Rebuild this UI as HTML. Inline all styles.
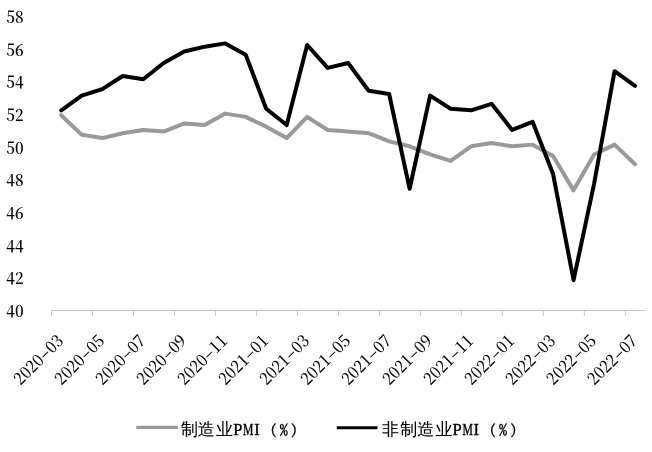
<!DOCTYPE html>
<html><head><meta charset="utf-8"><style>
html,body{margin:0;padding:0;background:#fff;}
body{width:652px;height:452px;overflow:hidden;}
svg{display:block;filter:grayscale(1);}
.yl{font-family:"Noto Serif CJK SC",serif;font-size:17px;text-anchor:end;dominant-baseline:alphabetic;font-weight:600;fill:#000;}
.xl{font-family:"Noto Serif CJK SC",serif;font-size:17px;text-anchor:end;dominant-baseline:alphabetic;font-weight:500;fill:#000;}
.lg{fill:#000;}
.c{font-family:"WenQuanYi Zen Hei",sans-serif;font-size:17px;stroke:#000;stroke-width:0.1px;}
.l{font-family:"Liberation Serif",serif;font-size:16.5px;stroke:#000;stroke-width:0.4px;}
.p{font-family:"IPAGothic",sans-serif;font-size:15px;stroke:#000;stroke-width:0.3px;}
.q{font-family:"IPAGothic",sans-serif;font-size:14px;stroke:#000;stroke-width:0.15px;}
</style></head><body>
<svg width="652" height="452" viewBox="0 0 652 452">
<text class="yl" transform="translate(23.6,310.80) scale(0.89,1)" y="6.2">40</text>
<text class="yl" transform="translate(23.6,278.14) scale(0.89,1)" y="6.2">42</text>
<text class="yl" transform="translate(23.6,245.48) scale(0.89,1)" y="6.2">44</text>
<text class="yl" transform="translate(23.6,212.82) scale(0.89,1)" y="6.2">46</text>
<text class="yl" transform="translate(23.6,180.16) scale(0.89,1)" y="6.2">48</text>
<text class="yl" transform="translate(23.6,147.50) scale(0.89,1)" y="6.2">50</text>
<text class="yl" transform="translate(23.6,114.84) scale(0.89,1)" y="6.2">52</text>
<text class="yl" transform="translate(23.6,82.18) scale(0.89,1)" y="6.2">54</text>
<text class="yl" transform="translate(23.6,49.52) scale(0.89,1)" y="6.2">56</text>
<text class="yl" transform="translate(23.6,16.86) scale(0.89,1)" y="6.2">58</text>
<line x1="51.0" y1="310.5" x2="645.8" y2="310.5" stroke="#c6c6c6" stroke-width="1"/>
<line x1="51.50" y1="310.5" x2="51.50" y2="316.0" stroke="#c6c6c6" stroke-width="1"/>
<line x1="92.49" y1="310.5" x2="92.49" y2="316.0" stroke="#c6c6c6" stroke-width="1"/>
<line x1="133.47" y1="310.5" x2="133.47" y2="316.0" stroke="#c6c6c6" stroke-width="1"/>
<line x1="174.46" y1="310.5" x2="174.46" y2="316.0" stroke="#c6c6c6" stroke-width="1"/>
<line x1="215.44" y1="310.5" x2="215.44" y2="316.0" stroke="#c6c6c6" stroke-width="1"/>
<line x1="256.43" y1="310.5" x2="256.43" y2="316.0" stroke="#c6c6c6" stroke-width="1"/>
<line x1="297.42" y1="310.5" x2="297.42" y2="316.0" stroke="#c6c6c6" stroke-width="1"/>
<line x1="338.40" y1="310.5" x2="338.40" y2="316.0" stroke="#c6c6c6" stroke-width="1"/>
<line x1="379.39" y1="310.5" x2="379.39" y2="316.0" stroke="#c6c6c6" stroke-width="1"/>
<line x1="420.38" y1="310.5" x2="420.38" y2="316.0" stroke="#c6c6c6" stroke-width="1"/>
<line x1="461.36" y1="310.5" x2="461.36" y2="316.0" stroke="#c6c6c6" stroke-width="1"/>
<line x1="502.35" y1="310.5" x2="502.35" y2="316.0" stroke="#c6c6c6" stroke-width="1"/>
<line x1="543.33" y1="310.5" x2="543.33" y2="316.0" stroke="#c6c6c6" stroke-width="1"/>
<line x1="584.32" y1="310.5" x2="584.32" y2="316.0" stroke="#c6c6c6" stroke-width="1"/>
<line x1="625.31" y1="310.5" x2="625.31" y2="316.0" stroke="#c6c6c6" stroke-width="1"/>
<text class="xl" transform="translate(60.05,337.5) rotate(-45) scale(0.91,1)" y="6.2">2020<tspan textLength="11" lengthAdjust="spacingAndGlyphs">-</tspan>03</text>
<text class="xl" transform="translate(101.03,337.5) rotate(-45) scale(0.91,1)" y="6.2">2020<tspan textLength="11" lengthAdjust="spacingAndGlyphs">-</tspan>05</text>
<text class="xl" transform="translate(142.02,337.5) rotate(-45) scale(0.91,1)" y="6.2">2020<tspan textLength="11" lengthAdjust="spacingAndGlyphs">-</tspan>07</text>
<text class="xl" transform="translate(183.01,337.5) rotate(-45) scale(0.91,1)" y="6.2">2020<tspan textLength="11" lengthAdjust="spacingAndGlyphs">-</tspan>09</text>
<text class="xl" transform="translate(223.99,337.5) rotate(-45) scale(0.91,1)" y="6.2">2020<tspan textLength="11" lengthAdjust="spacingAndGlyphs">-</tspan>11</text>
<text class="xl" transform="translate(264.98,337.5) rotate(-45) scale(0.91,1)" y="6.2">2021<tspan textLength="11" lengthAdjust="spacingAndGlyphs">-</tspan>01</text>
<text class="xl" transform="translate(305.96,337.5) rotate(-45) scale(0.91,1)" y="6.2">2021<tspan textLength="11" lengthAdjust="spacingAndGlyphs">-</tspan>03</text>
<text class="xl" transform="translate(346.95,337.5) rotate(-45) scale(0.91,1)" y="6.2">2021<tspan textLength="11" lengthAdjust="spacingAndGlyphs">-</tspan>05</text>
<text class="xl" transform="translate(387.94,337.5) rotate(-45) scale(0.91,1)" y="6.2">2021<tspan textLength="11" lengthAdjust="spacingAndGlyphs">-</tspan>07</text>
<text class="xl" transform="translate(428.92,337.5) rotate(-45) scale(0.91,1)" y="6.2">2021<tspan textLength="11" lengthAdjust="spacingAndGlyphs">-</tspan>09</text>
<text class="xl" transform="translate(469.91,337.5) rotate(-45) scale(0.91,1)" y="6.2">2021<tspan textLength="11" lengthAdjust="spacingAndGlyphs">-</tspan>11</text>
<text class="xl" transform="translate(510.89,337.5) rotate(-45) scale(0.91,1)" y="6.2">2022<tspan textLength="11" lengthAdjust="spacingAndGlyphs">-</tspan>01</text>
<text class="xl" transform="translate(551.88,337.5) rotate(-45) scale(0.91,1)" y="6.2">2022<tspan textLength="11" lengthAdjust="spacingAndGlyphs">-</tspan>03</text>
<text class="xl" transform="translate(592.87,337.5) rotate(-45) scale(0.91,1)" y="6.2">2022<tspan textLength="11" lengthAdjust="spacingAndGlyphs">-</tspan>05</text>
<text class="xl" transform="translate(633.85,337.5) rotate(-45) scale(0.91,1)" y="6.2">2022<tspan textLength="11" lengthAdjust="spacingAndGlyphs">-</tspan>07</text>
<polyline points="61.25,115.24 81.74,134.84 102.23,138.10 122.73,133.20 143.22,129.94 163.71,131.57 184.21,123.41 204.70,125.04 225.19,113.61 245.68,116.87 266.18,126.67 286.67,138.10 307.16,116.87 327.66,129.94 348.15,131.57 368.64,133.20 389.14,141.37 409.63,146.27 430.12,154.43 450.62,160.96 471.11,146.27 491.60,143.00 512.09,146.27 532.59,144.63 553.08,156.06 573.57,190.36 594.07,154.43 614.56,144.63 635.05,164.23" fill="none" stroke="#999999" stroke-width="4.0" stroke-linejoin="round" stroke-linecap="round"/>
<polyline points="61.25,110.34 81.74,95.64 102.23,89.11 122.73,76.05 143.22,79.31 163.71,62.98 184.21,51.55 204.70,46.65 225.19,43.39 245.68,54.82 266.18,108.71 286.67,125.04 307.16,45.02 327.66,67.88 348.15,62.98 368.64,90.75 389.14,94.01 409.63,188.72 430.12,95.64 450.62,108.71 471.11,110.34 491.60,103.81 512.09,129.94 532.59,121.77 553.08,174.03 573.57,280.17 594.07,183.83 614.56,71.15 635.05,85.85" fill="none" stroke="#000" stroke-width="4.0" stroke-linejoin="round" stroke-linecap="round"/>
<line x1="136.3" y1="427.4" x2="177.8" y2="427.4" stroke="#999999" stroke-width="3.1"/>
<text class="lg"><tspan class="c" x="180.90" y="435.3">制</tspan><tspan class="c" x="197.80" y="435.3">造</tspan><tspan class="c" x="216.00" y="435.3">业</tspan><tspan class="l" x="233.20" y="435.3">P</tspan><tspan class="l" x="243.00" y="435.3" textLength="10.4" lengthAdjust="spacingAndGlyphs">M</tspan><tspan class="l" x="254.20" y="435.3">I</tspan><tspan class="p" x="261.90" y="436.0">（</tspan><tspan class="q" x="279.40" y="434.8" textLength="8.6" lengthAdjust="spacingAndGlyphs">%</tspan><tspan class="p" x="290.60" y="436.0">）</tspan></text>
<line x1="336.8" y1="427.8" x2="377.5" y2="427.8" stroke="#000" stroke-width="3.1"/>
<text class="lg"><tspan class="c" x="381.90" y="435.3">非</tspan><tspan class="c" x="400.30" y="435.3">制</tspan><tspan class="c" x="417.20" y="435.3">造</tspan><tspan class="c" x="435.40" y="435.3">业</tspan><tspan class="l" x="452.60" y="435.3">P</tspan><tspan class="l" x="462.40" y="435.3" textLength="10.4" lengthAdjust="spacingAndGlyphs">M</tspan><tspan class="l" x="473.60" y="435.3">I</tspan><tspan class="p" x="481.30" y="436.0">（</tspan><tspan class="q" x="498.80" y="434.8" textLength="8.6" lengthAdjust="spacingAndGlyphs">%</tspan><tspan class="p" x="510.00" y="436.0">）</tspan></text>
</svg>
</body></html>
